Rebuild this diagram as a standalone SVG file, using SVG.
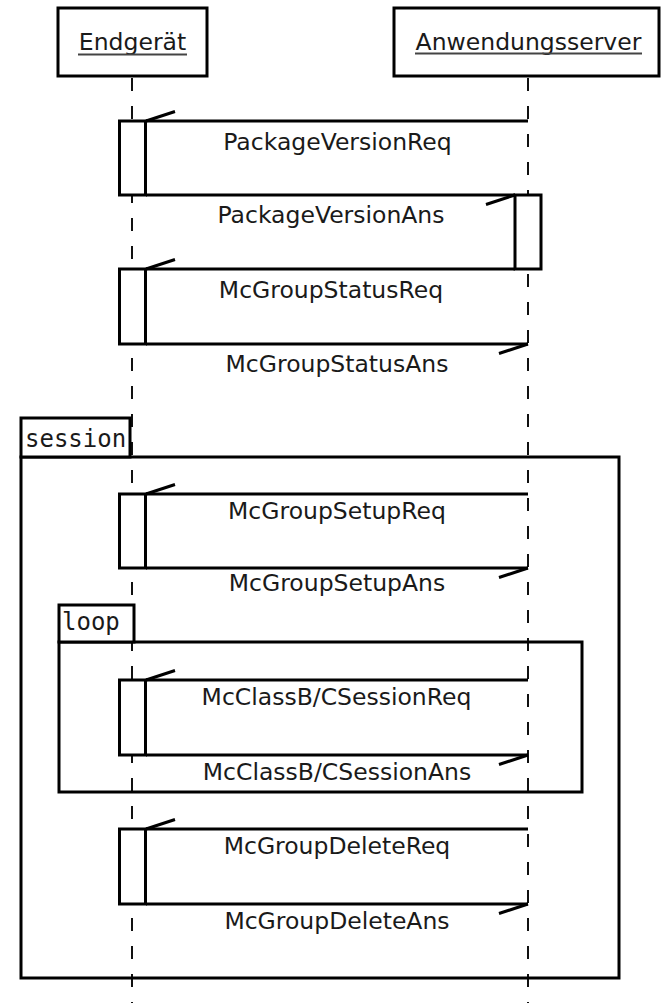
<svg xmlns="http://www.w3.org/2000/svg" width="661" height="1003" viewBox="0 0 661 1003">
  <defs>
    <!-- open half arrowhead used by every message -->
    <marker id="half" markerUnits="userSpaceOnUse" markerWidth="40" markerHeight="40" refX="0" refY="0" orient="auto" overflow="visible">
      <path d="M0,0 L-29,9.5" fill="none" stroke="#000" stroke-width="3" stroke-linecap="butt"/>
    </marker>
    <style>
      .box { fill: #fff; stroke: #000; stroke-width: 3; }
      .act { fill: #fff; stroke: #000; stroke-width: 3; }
      .frame { fill: none; stroke: #000; stroke-width: 3; }
      .tab { fill: #fff; stroke: #000; stroke-width: 3; }
      .life { stroke: #111; stroke-width: 2; stroke-dasharray: 13 15; fill: none; }
      .msg { stroke: #000; stroke-width: 3; fill: none; marker-end: url(#half); }
      .uline { stroke: #444; stroke-width: 2; }
      .name { font-family: "DejaVu Sans", Verdana, sans-serif; font-size: 23.5px; fill: #1a1a1a; text-anchor: middle; }
      .label { font-family: "DejaVu Sans", Verdana, sans-serif; font-size: 23.5px; fill: #1a1a1a; text-anchor: middle; }
      .kw { font-family: "DejaVu Sans Mono", "Liberation Mono", monospace; font-size: 24px; fill: #1a1a1a; }
    </style>
  </defs>

  <rect width="661" height="1003" fill="#fff"/>

  <!-- lifelines -->
  <g id="lifelines">
    <line class="life" x1="132" y1="78" x2="132" y2="1003"/>
    <line class="life" x1="528" y1="78" x2="528" y2="1003"/>
  </g>

  <!-- combined fragments -->
  <g id="frame-session">
    <rect class="frame" x="21" y="457" width="598" height="521"/>
    <rect class="tab" x="21" y="418" width="109" height="39"/>
    <text class="kw" x="25" y="447">session</text>
  </g>
  <g id="frame-loop">
    <rect class="frame" x="59" y="642" width="523" height="150"/>
    <rect class="tab" x="59" y="605" width="75" height="37"/>
    <text class="kw" x="62" y="630">loop</text>
  </g>

  <!-- participants -->
  <g id="endgeraet">
    <rect class="box" x="58" y="8" width="149" height="68"/>
    <text class="name" x="132.5" y="50">Endgerät</text>
    <line class="uline" x1="78" y1="54.5" x2="187" y2="54.5"/>
  </g>
  <g id="anwendungsserver">
    <rect class="box" x="394" y="8" width="265" height="68"/>
    <text class="name" x="528.5" y="49.5">Anwendungsserver</text>
    <line class="uline" x1="415" y1="53.5" x2="642" y2="53.5"/>
  </g>

  <!-- activation bars -->
  <g id="activations">
    <rect id="act-e1" class="act" x="119.5" y="121" width="26" height="74"/>
    <rect id="act-s1" class="act" x="515" y="195" width="26" height="74"/>
    <rect id="act-e2" class="act" x="119.5" y="269" width="26" height="75"/>
    <rect id="act-e3" class="act" x="119.5" y="494" width="26" height="74"/>
    <rect id="act-e4" class="act" x="119.5" y="680" width="26" height="75"/>
    <rect id="act-e5" class="act" x="119.5" y="829" width="26" height="75"/>
  </g>

  <!-- messages -->
  <g id="connectors">
    <line class="msg" x1="528" y1="121" x2="146" y2="121"/>
    <line class="msg" x1="146" y1="195" x2="515" y2="195"/>
    <line class="msg" x1="515" y1="269" x2="146" y2="269"/>
    <line class="msg" x1="146" y1="344" x2="528" y2="344"/>
    <line class="msg" x1="528" y1="494" x2="146" y2="494"/>
    <line class="msg" x1="146" y1="568" x2="528" y2="568"/>
    <line class="msg" x1="528" y1="680" x2="146" y2="680"/>
    <line class="msg" x1="146" y1="755" x2="528" y2="755"/>
    <line class="msg" x1="528" y1="829" x2="146" y2="829"/>
    <line class="msg" x1="146" y1="904" x2="528" y2="904"/>
  </g>

  <!-- message labels -->
  <g id="labels">
    <text class="label" x="337.5" y="149.5">PackageVersionReq</text>
    <text class="label" x="331" y="223">PackageVersionAns</text>
    <text class="label" x="331" y="298">McGroupStatusReq</text>
    <text class="label" x="337" y="372">McGroupStatusAns</text>
    <text class="label" x="337" y="518.5">McGroupSetupReq</text>
    <text class="label" x="337" y="591">McGroupSetupAns</text>
    <text class="label" x="336.5" y="705">McClassB/CSessionReq</text>
    <text class="label" x="337" y="780">McClassB/CSessionAns</text>
    <text class="label" x="337" y="853.5">McGroupDeleteReq</text>
    <text class="label" x="337" y="929">McGroupDeleteAns</text>
  </g>
</svg>
